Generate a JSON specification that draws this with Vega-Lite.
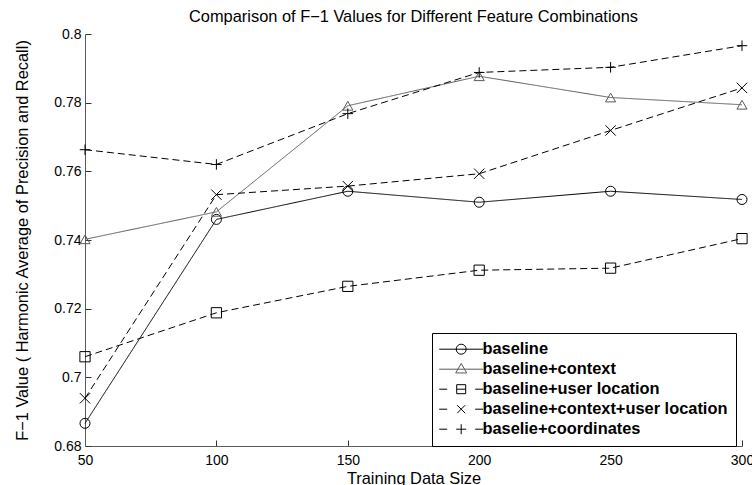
{
  "$schema": "https://vega.github.io/schema/vega-lite/v6.json",
  "width": 657,
  "height": 412,
  "autosize": {"type": "none"},
  "padding": {"left": 85, "top": 34, "right": 10, "bottom": 39},
  "background": "white",
  "title": {
    "text": "Comparison of F−1 Values for Different Feature Combinations",
    "fontSize": 16.4,
    "fontWeight": "normal",
    "font": "Liberation Sans",
    "color": "black",
    "baseline": "alphabetic",
    "offset": 10,
    "dy": 21
  },
  "data": {
    "values": [
      {"series": "baseline", "size": 50, "f1": 0.6866},
      {"series": "baseline", "size": 100, "f1": 0.746},
      {"series": "baseline", "size": 150, "f1": 0.7542},
      {"series": "baseline", "size": 200, "f1": 0.751},
      {"series": "baseline", "size": 250, "f1": 0.7542},
      {"series": "baseline", "size": 300, "f1": 0.7518},
      {"series": "baseline+context", "size": 50, "f1": 0.7402},
      {"series": "baseline+context", "size": 100, "f1": 0.7482},
      {"series": "baseline+context", "size": 150, "f1": 0.7791},
      {"series": "baseline+context", "size": 200, "f1": 0.7877},
      {"series": "baseline+context", "size": 250, "f1": 0.7815},
      {"series": "baseline+context", "size": 300, "f1": 0.7794},
      {"series": "baseline+user location", "size": 50, "f1": 0.706},
      {"series": "baseline+user location", "size": 100, "f1": 0.7188},
      {"series": "baseline+user location", "size": 150, "f1": 0.7265},
      {"series": "baseline+user location", "size": 200, "f1": 0.7312},
      {"series": "baseline+user location", "size": 250, "f1": 0.7318},
      {"series": "baseline+user location", "size": 300, "f1": 0.7404},
      {"series": "baseline+context+user location", "size": 50, "f1": 0.6939},
      {"series": "baseline+context+user location", "size": 100, "f1": 0.7532},
      {"series": "baseline+context+user location", "size": 150, "f1": 0.7557},
      {"series": "baseline+context+user location", "size": 200, "f1": 0.7593},
      {"series": "baseline+context+user location", "size": 250, "f1": 0.7719},
      {"series": "baseline+context+user location", "size": 300, "f1": 0.7843},
      {"series": "baselie+coordinates", "size": 50, "f1": 0.7663},
      {"series": "baselie+coordinates", "size": 100, "f1": 0.762},
      {"series": "baselie+coordinates", "size": 150, "f1": 0.7768},
      {"series": "baselie+coordinates", "size": 200, "f1": 0.7888},
      {"series": "baselie+coordinates", "size": 250, "f1": 0.7903},
      {"series": "baselie+coordinates", "size": 300, "f1": 0.7966}
    ]
  },
  "encoding": {
    "x": {
      "field": "size",
      "type": "quantitative",
      "scale": {"domain": [50, 300], "nice": false, "zero": false},
      "axis": {
        "title": "Training Data Size",
        "values": [50, 100, 150, 200, 250, 300],
        "labelPadding": 13,
        "titlePadding": 3
      }
    },
    "y": {
      "field": "f1",
      "type": "quantitative",
      "scale": {"domain": [0.68, 0.8], "nice": false, "zero": false},
      "axis": {
        "title": "F−1 Value ( Harmonic Average of Precision and Recall)",
        "values": [0.68, 0.7, 0.72, 0.74, 0.76, 0.78, 0.8],
        "format": ".2~f",
        "titleX": -58,
        "titleBaseline": "alphabetic"
      }
    }
  },
  "layer": [
    {
      "mark": {"type": "line", "strokeWidth": 1},
      "encoding": {
        "color": {
          "field": "series",
          "type": "nominal",
          "legend": null,
          "scale": {
            "domain": ["baseline", "baseline+context", "baseline+user location", "baseline+context+user location", "baselie+coordinates"],
            "range": ["#000000", "#5a5a5a", "#000000", "#000000", "#000000"]
          }
        },
        "strokeDash": {
          "field": "series",
          "type": "nominal",
          "legend": null,
          "scale": {
            "domain": ["baseline", "baseline+context", "baseline+user location", "baseline+context+user location", "baselie+coordinates"],
            "range": [[1, 0], [1, 0], [7, 4], [7, 4], [7, 4]]
          }
        }
      }
    },
    {
      "mark": {"type": "point", "filled": false, "strokeWidth": 1, "opacity": 1},
      "encoding": {
        "color": {
          "field": "series",
          "type": "nominal",
          "legend": null,
          "scale": {
            "domain": ["baseline", "baseline+context", "baseline+user location", "baseline+context+user location", "baselie+coordinates"],
            "range": ["#000000", "#5a5a5a", "#000000", "#000000", "#000000"]
          }
        },
        "shape": {
          "field": "series",
          "type": "nominal",
          "legend": null,
          "scale": {
            "domain": ["baseline", "baseline+context", "baseline+user location", "baseline+context+user location", "baselie+coordinates"],
            "range": ["circle", "triangle-up", "square", "M-1,-1L1,1M-1,1L1,-1", "M-1,0H1M0,-1V1"]
          }
        },
        "size": {
          "field": "series",
          "type": "nominal",
          "legend": null,
          "scale": {
            "domain": ["baseline", "baseline+context", "baseline+user location", "baseline+context+user location", "baselie+coordinates"],
            "range": [100, 110, 80, 70, 100]
          }
        }
      }
    },
    {
      "mark": {"type": "point", "filled": false, "strokeWidth": 1, "opacity": 0, "size": 100},
      "encoding": {
        "color": {
          "field": "series",
          "type": "nominal",
          "title": null,
          "scale": {
            "domain": ["baseline", "baseline+context", "baseline+user location", "baseline+context+user location", "baselie+coordinates"],
            "range": ["#000000", "#5a5a5a", "#000000", "#000000", "#000000"]
          }
        },
        "shape": {
          "field": "series",
          "type": "nominal",
          "title": null,
          "scale": {
            "domain": ["baseline", "baseline+context", "baseline+user location", "baseline+context+user location", "baselie+coordinates"],
            "range": [
              "M-4.4,0H4.4M1,0A1,1,0,1,1,-1,0A1,1,0,1,1,1,0",
              "M-4.4,0H4.4M0,-1.15L1.1,0.75L-1.1,0.75Z",
              "M-4.4,0H-2.8M-0.9,0H0.9M2.8,0H4.4M-0.9,-0.9H0.9V0.9H-0.9Z",
              "M-4.4,0H-2.8M2.8,0H4.4M-0.8,-0.8L0.8,0.8M-0.8,0.8L0.8,-0.8",
              "M-4.4,0H-2.8M2.8,0H4.4M-1,0H1M0,-1V1"
            ]
          }
        }
      }
    }
  ],
  "resolve": {
    "scale": {"color": "independent", "shape": "independent", "size": "independent", "strokeDash": "independent"}
  },
  "config": {
    "font": "Liberation Sans",
    "view": {"stroke": null},
    "axis": {
      "grid": false,
      "domainColor": "#5a5a5a",
      "domainWidth": 1,
      "tickColor": "#333333",
      "tickSize": -6,
      "labelFont": "Liberation Sans",
      "labelFontSize": 14,
      "labelColor": "#000000",
      "labelFlush": false,
      "labelOverlap": false,
      "labelPadding": 10,
      "titleFont": "Liberation Sans",
      "titleFontSize": 16.4,
      "titleFontWeight": "normal",
      "titleColor": "#000000"
    },
    "legend": {
      "orient": "none",
      "legendX": 347,
      "legendY": 299,
      "padding": 8,
      "strokeColor": "#000000",
      "strokeWidth": 1,
      "fillColor": "#ffffff",
      "labelFont": "Liberation Sans",
      "labelFontSize": 16.4,
      "labelFontWeight": "bold",
      "labelColor": "#000000",
      "labelLimit": 250,
      "symbolOffset": 13,
      "labelOffset": 13,
      "symbolStrokeWidth": 1,
      "symbolSize": 100,
      "symbolOpacity": 1,
      "rowPadding": 3
    }
  }
}
